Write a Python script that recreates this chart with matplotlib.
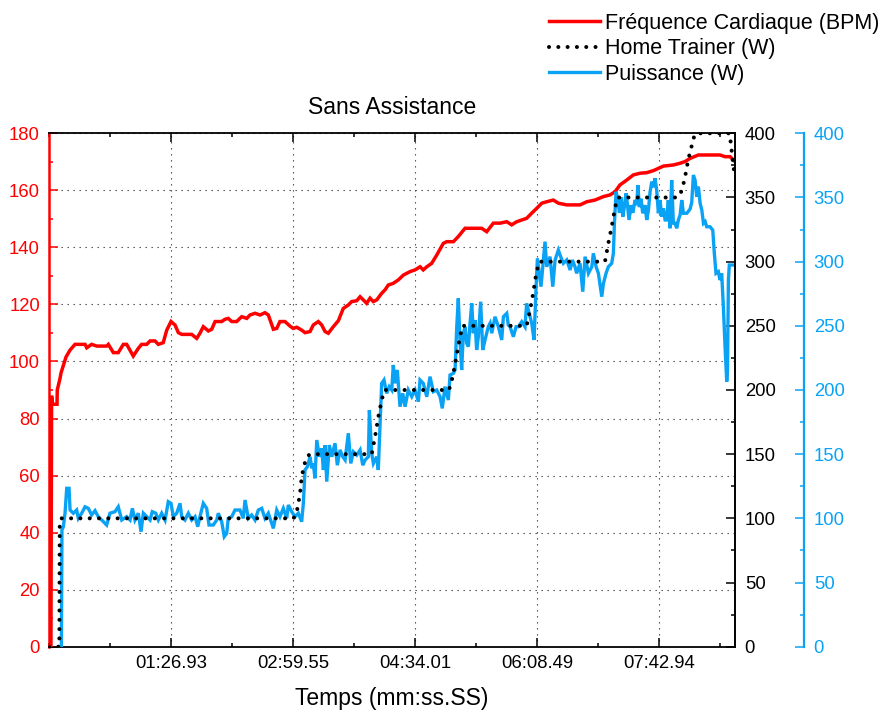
import matplotlib
matplotlib.use("Agg")
import matplotlib.pyplot as plt
from matplotlib.ticker import MultipleLocator, FixedLocator
from matplotlib.lines import Line2D

plt.rcParams['font.family'] = ['Liberation Sans', 'DejaVu Sans']

# ---- Heart rate (BPM) over elapsed time (s) ----
hr_t = [0, 1.5, 2.0, 2.7, 6.2, 6.4, 8.5, 9.3, 13.2, 16.3, 20.1, 27.9, 29.2, 33.0, 36.9,
        44.6, 45.9, 49.8, 53.6, 57.5, 60.1, 65.2, 69.1, 71.7, 75.6, 78.2, 82.0, 84.6,
        88.4, 91.1, 94.4, 97.5, 100.1, 102.7, 110.4, 114.3, 116.8, 119.4, 123.3, 125.9,
        128.5, 133.6, 136.2, 138.7, 141.4, 145.2, 149.1, 153.0, 155.5, 159.4, 163.3,
        167.1, 169.7, 173.6, 176.2, 178.7, 182.6, 186.5, 189.0, 191.7, 195.5, 198.1,
        202.0, 204.5, 208.4, 211.0, 213.6, 216.1, 220.0, 223.9, 227.7, 231.6, 234.2,
        238.1, 240.7, 243.2, 245.8, 248.4, 250.9, 253.6, 257.4, 260.0, 262.5, 266.4,
        270.3, 274.2, 279.3, 283.2, 287.1, 289.6, 292.3, 296.1, 300.0, 305.1, 307.7,
        312.9, 316.7, 321.9, 334.8, 338.7, 343.8, 349.0, 354.2, 358.0, 361.9, 365.8,
        369.6, 373.5, 377.4, 381.3, 385.1, 390.2, 394.1, 400.6, 410.9, 416.1, 422.5,
        428.9, 434.1, 438.0, 441.8, 447.0, 452.1, 457.3, 462.5, 467.6, 475.4, 483.1,
        488.3, 492.2, 496.0, 502.5, 519.2, 523.1, 527.0, 529.6, 530.8]
hr_bpm = [0, 0, 88, 85, 85, 90, 94, 96, 101.6, 104, 106, 106, 104.8, 106, 105.4,
          105.4, 106, 103.1, 103.1, 106, 106, 101.9, 104.6, 106, 106, 107.2, 107.2, 106,
          106.6, 111, 114, 112.8, 110.1, 109.5, 109.5, 108.1, 109.9, 112.2, 110.7, 111.3,
          114, 114, 114.8, 115.1, 114, 114, 115.7, 115.1, 116.3, 116.9, 116.3,
          117.1, 116.3, 111.3, 111.6, 114, 114, 112.4, 111.6, 112, 111, 110.1,
          110.5, 112.8, 114, 112.8, 110.5, 109.9, 112.2, 114.3, 118.6, 119.8, 121,
          121.3, 122.7, 121.6, 120.4, 122.2, 121, 121.6, 123.9, 125.1, 126.8, 127.4,
          128.6, 130.3, 131.5, 132.1, 133.2, 132.1, 133.2, 134.4, 137.3, 141.4, 142,
          142, 143.8, 146.7, 146.7, 145.5, 148.5, 148.5, 149, 147.9, 149, 149.6,
          150.2, 152, 153.7, 155.5, 156, 156.6, 155.5, 154.9, 154.9, 156, 156.6,
          157.8, 158.4, 159.5, 161.9, 163.6, 165.4, 166, 166.2, 166.9, 168.5, 168.9,
          169.5, 170.1, 171.2, 172.4, 172.4, 171.8, 171.8, 170.6, 170.1]

# ---- Measured power (W) ----
pw_t = [9.6, 10.0, 11.1, 12.4, 13.7, 15.5, 16.3, 18.8, 21.4, 22.7, 25.3, 27.9, 30.4,
        33.0, 35.6, 38.1, 40.8, 44.6, 47.2, 51.1, 53.6, 56.3, 60.1, 62.7, 64.5, 66.5,
        69.1, 71.2, 73.0, 75.6, 78.2, 79.9, 82.6, 84.6, 87.2, 89.8, 92.3, 94.4, 96.2,
        98.8, 101.4, 102.7, 105.2, 107.8, 110.4, 113.0, 115.1, 116.8, 119.4, 122.0,
        123.8, 127.1, 129.8, 131.0, 133.6, 135.6, 137.5, 138.7, 141.4, 143.9, 147.8,
        150.3, 151.7, 154.2, 156.8, 159.4, 162.0, 164.6, 167.1, 169.7, 172.3, 173.6,
        176.2, 178.7, 181.3, 183.9, 185.2, 187.8, 190.4, 192.9, 195.5, 196.8, 198.1,
        199.9, 202.0, 203.3, 204.5, 205.8, 207.2, 209.2, 211.0, 212.3, 213.6, 214.9,
        216.9, 218.8, 221.3, 223.1, 225.2, 227.3, 229.1, 231.6, 233.5, 235.5, 238.1,
        240.7, 242.8, 244.6, 247.1, 247.9, 249.7, 251.0, 253.6, 254.8, 256.1, 257.4,
        259.2, 261.3, 263.3, 265.2, 266.4, 267.7, 269.5, 271.6, 273.7, 275.5, 278.0,
        280.7, 283.2, 285.8, 287.1, 289.6, 292.3, 294.8, 297.4, 300.0, 302.6, 304.3,
        306.4, 309.0, 310.3, 312.9, 314.2, 315.5, 316.7, 318.0, 319.3, 320.6, 321.9,
        323.2, 324.5, 325.8, 327.1, 328.3, 329.6, 330.9, 332.2, 334.0, 335.6, 337.4,
        339.9, 341.3, 342.6, 345.1, 347.7, 350.3, 351.6, 354.2, 355.4, 356.7, 359.3,
        361.4, 363.2, 365.8, 368.3, 369.6, 371.6, 373.5, 375.3, 376.8, 377.9, 379.4,
        380.7, 382.1, 383.8, 385.1, 387.7, 389.8, 391.6, 394.1, 395.9, 398.0, 400.6,
        403.2, 405.0, 407.0, 408.3, 410.9, 413.0, 414.8, 417.4, 420.0, 421.2, 423.3,
        425.1, 426.4, 427.7, 429.0, 431.0, 432.8, 435.4, 436.7, 437.5, 438.8, 440.1,
        441.4, 442.7, 444.0, 445.2, 446.5, 447.5, 448.8, 450.4, 451.7, 453.5, 454.8,
        455.6, 456.8, 458.1, 459.4, 461.2, 462.5, 463.8, 465.1, 466.4, 467.6, 468.9,
        470.2, 471.5, 472.8, 474.1, 475.4, 476.7, 477.9, 479.2, 480.5, 481.8, 483.1,
        484.4, 485.7, 487.0, 488.3, 489.6, 490.9, 493.5, 496.0, 497.3, 498.6, 499.9,
        501.2, 502.5, 503.8, 505.1, 506.4, 507.7, 508.9, 511.5, 513.6, 514.8, 516.1,
        517.9, 519.2, 520.5, 521.8, 523.1, 524.4, 525.0, 525.7, 526.4, 530.8]
pw_w = [0, 91, 93.5, 104, 123.4, 123.4, 106.5, 104, 106.5, 100, 104, 109, 107.8,
        102.6, 106, 101.3, 98.7, 94.8, 104, 105.2, 109, 98.7, 101.3, 98.7, 107.8, 98.7,
        104, 89.6, 104, 101.3, 98.7, 105.2, 104, 98.7, 104, 98.7, 113, 111.7, 101.3,
        104, 111.7, 101.3, 98.7, 104, 98.7, 101.3, 93.5, 101.3, 111.7, 107.8,
        94.8, 94.8, 98.7, 104, 97.5, 85.7, 88.3, 100, 101.3, 106.5, 106.5,
        100, 114.3, 100, 102.6, 98.7, 106.5, 107.8, 100, 104, 96, 92.2,
        106.5, 101.3, 107.8, 100, 110.4, 105.2, 101.3, 104, 97.4, 111.7, 137.7,
        140.2, 148, 139, 142.8, 131.2, 161, 148, 154.6, 137.7, 157.1, 128.6,
        157.1, 148, 158.5, 141.4, 153.3, 148, 145.5, 166.3, 142.8, 151.9, 149.3,
        153.3, 141.4, 145.5, 148, 184.4, 150.6, 142.8, 148, 137.7, 171.4, 205.2,
        207.8, 197.4, 202.6, 200, 219.5, 205.2, 215.6, 187, 197.4, 187, 200,
        194.8, 200, 190.9, 207.8, 205.2, 194.8, 210.4, 198.7, 200, 194.8, 185.7,
        202.6, 192.2, 211.7, 213, 215.6, 249.3, 271.4, 239, 215.6, 244.2, 249.3,
        236.4, 233.8, 252, 267.5, 244.2, 254.5, 231.2, 241.5, 268.8, 231.2, 239,
        249.3, 252, 244.2, 257.1, 249.3, 239, 257.1, 259.7, 250.6, 249.3, 241.5,
        249.3, 249.3, 253.2, 249.3, 267.5, 259.7, 252, 239, 277.9, 302.6, 290.9,
        280.5, 296, 315.6, 296, 303.9, 280.5, 301.3, 309, 303.9, 298.7, 301.3,
        293.5, 301.3, 296, 290.9, 298.7, 276.6, 303.9, 290.9, 296, 306.5, 296,
        290.9, 281.5, 272.7, 283, 290.9, 296, 298.7, 306.5, 329.9, 354.5, 348,
        338, 350, 335, 343, 353.2, 345, 332.5, 344, 338, 348, 344,
        359.7, 342.5, 349, 337.7, 344, 332.5, 340, 354.5, 362.3, 358, 365,
        355.8, 337.7, 348, 335, 341.5, 332.5, 332.5, 348, 326, 363.6, 330,
        330, 326, 332.5, 336.3, 348, 337.7, 337.7, 340.9, 346, 367.5, 363.6,
        350.6, 358.4, 345.5, 340.3, 329.9, 331.2, 327.2, 327.2, 324.6, 306.5, 290.9,
        292.2, 285.7, 290.9, 264.9, 233.7, 206.5, 215, 285.7, 297.4, 297.4]

# ---- Home trainer target (W) ----
ht_t = [0, 8.0, 8.3, 9.3, 189.2, 191.7, 193.0, 194.3, 195.5, 197.3, 199.5, 202.0,
        249.7, 252.3, 254.8, 257.4, 259.5, 309.5, 312.4, 315.0, 317.3, 319.9,
        369.6, 372.2, 374.7, 376.8, 379.2, 430.2, 432.8, 435.4, 438.0, 440.3,
        485.7, 488.3, 490.4, 492.2, 494.8, 496.6, 498.1, 499.9, 501.5,
        526.6, 527.6, 528.6, 529.6, 530.8]
ht_w = [0, 0, 95, 100, 100, 105, 112, 120, 132, 141, 148, 150,
        150, 163.6, 179, 192, 200, 200, 210.4, 224.7, 237.6, 250,
        250, 262, 275.8, 289.6, 300, 300, 314.3, 327.2, 342.3, 350,
        350, 351.9, 358.4, 366.2, 380.5, 387, 394.2, 399.4, 400,
        400, 392, 383, 374, 366]

# ---- Axis scales and tick labels ----
t_max = 530.8
hr_max = 180
w_max = 400
time_tick_pos = [94.45, 188.9, 283.35, 377.8, 472.25]
time_tick_labels = ['01:26.93', '02:59.55', '04:34.01', '06:08.49', '07:42.94']

RED = '#FF0000'
BLUE = '#0AA2F5'

fig = plt.figure(figsize=(8.83, 7.13), dpi=100)
ax = fig.add_axes([49 / 883, 66.3 / 713, 686 / 883, 513.4 / 713])
ax2 = ax.twinx()
ax3 = ax.twinx()

ax.plot(hr_t, hr_bpm, color=RED, lw=2.5, solid_joinstyle='miter', zorder=3)
ax2.plot(pw_t, pw_w, color=BLUE, lw=2.4, solid_joinstyle='miter')
dot_style = dict(color='black', lw=2.9, linestyle=(0, (0.01, 2.3)),
                 dash_capstyle='round')
ax3.plot(ht_t, ht_w, **dot_style)

ax.set_xlim(0, t_max)
ax.set_ylim(0, hr_max)
for a in (ax2, ax3):
    a.set_ylim(0, w_max)

# x axis
ax.xaxis.set_major_locator(FixedLocator(time_tick_pos))
ax.set_xticklabels(time_tick_labels)
ax.xaxis.set_minor_locator(MultipleLocator(time_tick_pos[0] / 2))
ax.tick_params(axis='x', which='both', direction='in', top=True, bottom=True,
               labelsize=13.3, pad=6, color='black')
ax.tick_params(axis='x', which='major', length=6.5, width=1.1)
ax.tick_params(axis='x', which='minor', length=3, width=1.1)

# left (heart rate) axis
ax.yaxis.set_major_locator(MultipleLocator(20))
ax.yaxis.set_minor_locator(MultipleLocator(10))
ax.tick_params(axis='y', which='both', direction='in', colors=RED,
               labelsize=13.3, pad=6.5)
ax.tick_params(axis='y', which='major', length=6.5, width=1.1)
ax.tick_params(axis='y', which='minor', length=3, width=1.1)

# right axes (power)
for a, col in ((ax2, 'black'), (ax3, BLUE)):
    a.yaxis.set_major_locator(MultipleLocator(50))
    a.yaxis.set_minor_locator(MultipleLocator(25))
    a.tick_params(axis='y', which='both', direction='in', colors=col,
                  labelsize=13.3, pad=7)
    a.tick_params(axis='y', which='major', length=6.5, width=1.1)
    a.tick_params(axis='y', which='minor', length=3, width=1.1)
    for s in ('left', 'top', 'bottom'):
        a.spines[s].set_visible(False)
    a.spines['right'].set_color(col)
    a.spines['right'].set_linewidth(1.4)

ax3.spines['right'].set_position(('axes', 1 + 69 / 686))
ax3.spines['right'].set_linewidth(1.6)

ax.spines['right'].set_visible(False)
ax.spines['left'].set_color(RED)
ax.spines['left'].set_linewidth(1.8)
for s in ('top', 'bottom'):
    ax.spines[s].set_color('black')
    ax.spines[s].set_linewidth(1.3)

ax.set_axisbelow(True)
ax.grid(True, which='major', axis='both', color='#404040', lw=0.8,
        linestyle=(0, (1.2, 4.2)))

ax.set_title('Sans Assistance', fontsize=16.5, pad=14)
ax.set_xlabel('Temps (mm:ss.SS)', fontsize=16.5, labelpad=11)

handles = [Line2D([], [], color=RED, lw=2.5),
           Line2D([], [], **dot_style),
           Line2D([], [], color=BLUE, lw=2.4)]
labels = ['Fréquence Cardiaque (BPM)', 'Home Trainer (W)', 'Puissance (W)']
fig.legend(handles, labels, loc='upper left', bbox_to_anchor=(549 / 883, 1 - 13 / 713),
           frameon=False, fontsize=15.5, handlelength=2.37, handletextpad=0.25,
           labelspacing=0.2, borderpad=0, borderaxespad=0)

fig.savefig('out.png', dpi=100)
